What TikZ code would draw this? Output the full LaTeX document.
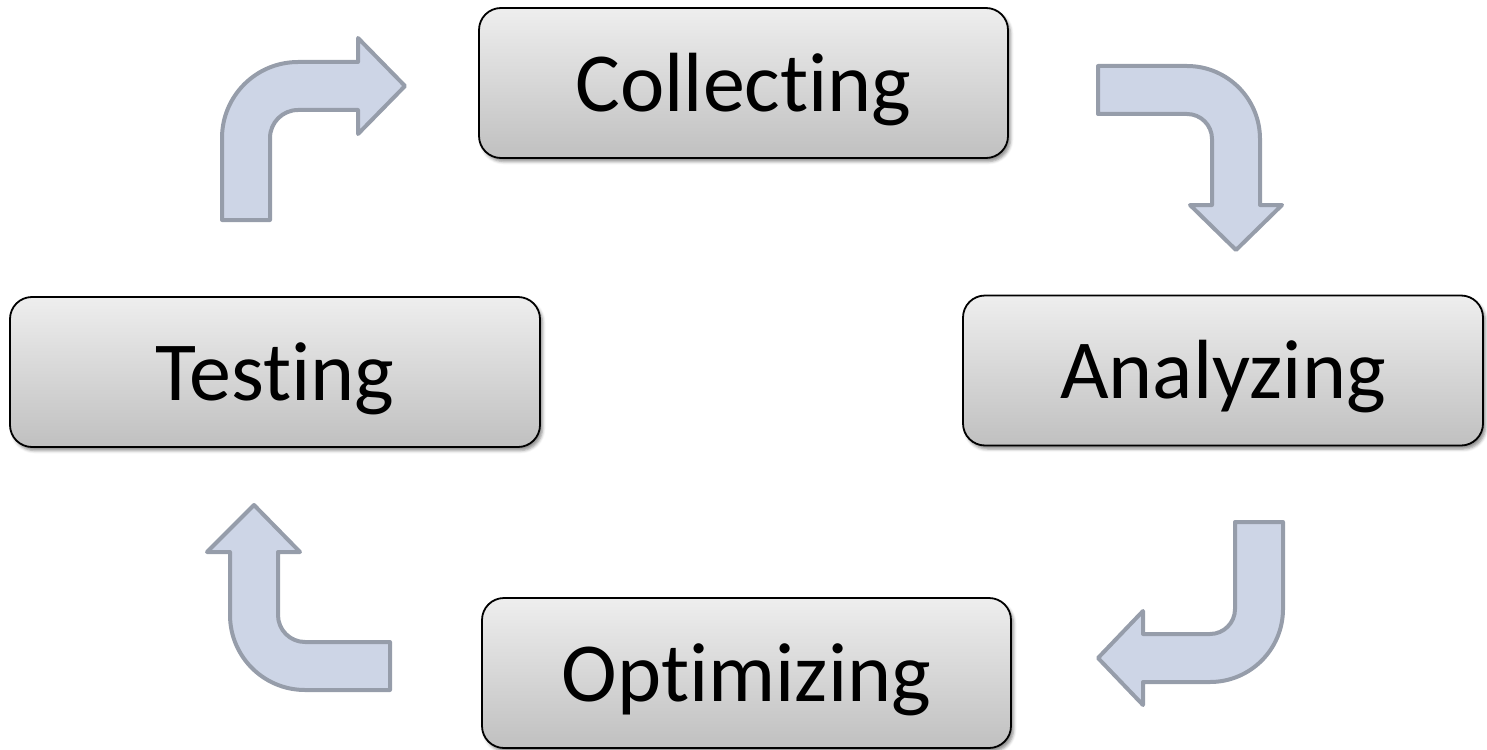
\documentclass[tikz,border=0pt]{standalone}
\usepackage{fontspec}
\setmainfont{Carlito}[Ligatures=NoCommon]
\usetikzlibrary{shadows.blur}
\definecolor{boxtop}{HTML}{EEEEEE}
\definecolor{boxbot}{HTML}{C0C0C0}
\definecolor{arrowfill}{HTML}{CDD5E6}
\definecolor{arrowline}{HTML}{969DAA}
\begin{document}
\begin{tikzpicture}[x=1pt,y=-1pt,
  stage/.style={draw=black, line width=1.8pt, rounded corners=22pt,
    top color=boxtop, bottom color=boxbot,
    minimum height=150pt, inner sep=0pt,
    text height=56pt, text depth=0pt,
    font=\fontsize{84}{100}\selectfont,
    blur shadow={shadow xshift=2.5pt, shadow yshift=-3.5pt,
      shadow blur radius=3pt, shadow opacity=45}},
  bentarrow/.style={draw=arrowline, fill=arrowfill, line width=4pt,
    line join=round}]
\useasboundingbox (0,0) rectangle (1487,749);

% the four stages of the cycle
\node[stage, minimum width=529pt] (collect) at (743.5,83) {Collecting};
\node[stage, minimum width=520pt] (analyze) at (1223,370.5) {Analyzing};
\node[stage, minimum width=529pt] (optim) at (746.5,673) {Optimizing};
\node[stage, minimum width=530pt] (test) at (275,372) {Testing};

% bent block arrows between the stages
% Testing -> Collecting
\draw[bentarrow] (222,220) -- (222,138)
  arc[start angle=180, end angle=270, radius=76]
  -- (358,62) -- (358,38) -- (405,86) -- (358,134) -- (358,110)
  -- (298,110) arc[start angle=270, end angle=180, radius=28]
  -- (270,220) -- cycle;

% Collecting -> Analyzing
\draw[bentarrow] (1098,66) -- (1187,66)
  arc[start angle=270, end angle=360, radius=73]
  -- (1260,205) -- (1282,205) -- (1236,250) -- (1190,205) -- (1212,205)
  -- (1212,139) arc[start angle=0, end angle=-90, radius=25]
  -- (1098,114) -- cycle;

% Analyzing -> Optimizing
\draw[bentarrow] (1235,522) -- (1283,522) -- (1283,609)
  arc[start angle=0, end angle=90, radius=73]
  -- (1143,682) -- (1143,705) -- (1098,658) -- (1143,611) -- (1143,634)
  -- (1210,634) arc[start angle=90, end angle=0, radius=25]
  -- cycle;

% Optimizing -> Testing
\draw[bentarrow] (390,642) -- (305,642)
  arc[start angle=90, end angle=180, radius=27]
  -- (278,552) -- (300,552) -- (254,505) -- (207,552) -- (230,552)
  -- (230,615) arc[start angle=180, end angle=90, radius=75]
  -- (390,690) -- cycle;
\end{tikzpicture}
\end{document}
